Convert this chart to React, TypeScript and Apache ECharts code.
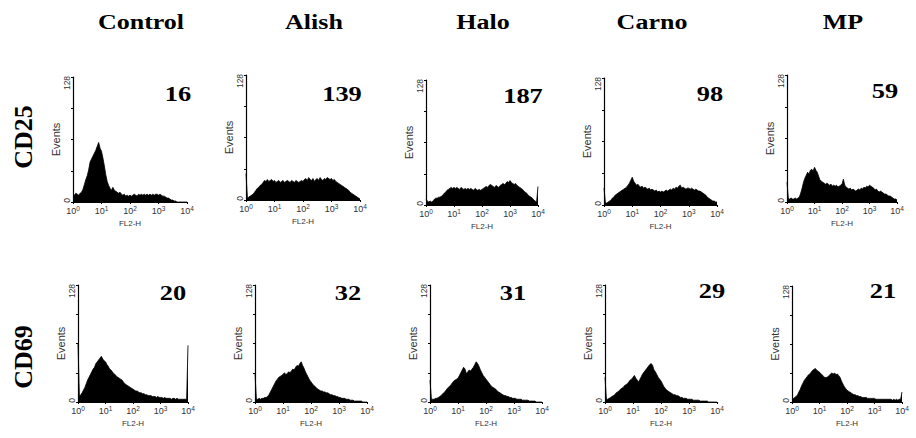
import React, { useEffect, useRef } from 'react';
import * as echarts from 'echarts';

// ---------- data ----------
const COLUMNS = ['Control', 'Alish', 'Halo', 'Carno', 'MP'];
const ROWS = ['CD25', 'CD69'];
const CD25_MFI = ['16', '139', '187', '98', '59'];
const CD69_MFI = ['20', '32', '31', '29', '21'];
const X_TICK_EXPONENTS = ['0', '1', '2', '3', '4'];
const Y_MAX = 128;
const BINS_PER_DECADE = 20; // histogram channels: 10^0 .. 10^4, 81 channels

// Events per channel, channel k at 10^(k/20)
const cd25Control = [
  8, 7, 9, 8, 7, 9, 10, 13, 18, 23,
  27, 33, 41, 44, 47, 50, 53, 57, 61, 55,
  52, 45, 37, 28, 21, 17, 14, 12, 15, 12,
  11, 10, 9, 10, 8, 7, 8, 6, 7, 6,
  7, 6, 7, 8, 7, 6, 8, 7, 8, 7,
  8, 7, 8, 7, 8, 7, 8, 7, 8, 8,
  7, 8, 7, 6, 6, 5, 4, 4, 3, 2,
  2, 1, 1, 0, 0, 0, 0, 0, 0, 0,
  0,
];
const cd25Alish = [
  27, 2, 3, 4, 5, 6, 8, 10, 12, 13,
  15, 16, 18, 20, 19, 21, 19, 20, 21, 19,
  20, 18, 19, 20, 18, 19, 20, 18, 19, 20,
  19, 18, 20, 19, 18, 20, 19, 18, 19, 20,
  19, 21, 22, 20, 23, 21, 20, 22, 19, 21,
  22, 20, 23, 21, 20, 22, 21, 23, 22, 21,
  22, 20, 21, 19, 18, 17, 16, 15, 14, 13,
  12, 11, 10, 8, 7, 6, 5, 4, 3, 2,
  1,
];
const cd25Halo = [
  6, 4, 3, 4, 3, 4, 6, 7, 7, 8,
  8, 9, 10, 12, 13, 15, 16, 17, 18, 17,
  18, 17, 18, 17, 16, 18, 17, 16, 17, 16,
  17, 16, 17, 16, 15, 17, 16, 15, 16, 15,
  16, 17, 18, 19, 18, 20, 21, 20, 19, 18,
  20, 19, 18, 20, 21, 22, 21, 22, 24, 23,
  25, 23, 22, 21, 22, 20, 19, 18, 17, 16,
  14, 13, 12, 10, 9, 8, 7, 5, 4, 3,
  19,
];
const cd25Carno = [
  17, 2, 2, 3, 4, 5, 7, 8, 10, 11,
  12, 13, 14, 15, 16, 17, 18, 20, 22, 25,
  28, 24, 22, 20, 21, 19, 18, 19, 17, 18,
  17, 16, 17, 15, 16, 15, 14, 15, 13, 14,
  13, 14, 13, 14, 15, 14, 15, 16, 15, 17,
  16, 18, 17, 19, 20, 17, 18, 17, 16, 17,
  17, 16, 17, 16, 15, 16, 15, 14, 14, 13,
  12, 11, 10, 8, 7, 6, 5, 4, 4, 3,
  3,
];
const cd25MP = [
  20, 3, 3, 4, 3, 3, 4, 3, 4, 5,
  9, 14, 20, 24, 27, 30, 28, 32, 33, 31,
  35, 32, 30, 26, 22, 21, 20, 19, 18, 19,
  18, 17, 18, 16, 17, 16, 17, 15, 16, 17,
  18, 23, 17, 15, 14, 13, 14, 12, 13, 12,
  11, 12, 13, 12, 14, 13, 15, 14, 16, 15,
  17, 16, 15, 14, 12, 13, 11, 10, 11, 10,
  9, 8, 8, 7, 6, 6, 5, 4, 3, 3,
  2,
];
const cd69Control = [
  64, 6, 8, 10, 13, 16, 20, 24, 27, 30,
  33, 36, 38, 42, 44, 46, 48, 50, 47, 45,
  44, 41, 39, 36, 35, 33, 31, 30, 28, 27,
  26, 25, 24, 22, 20, 19, 18, 17, 16, 15,
  14, 13, 12, 12, 11, 10, 10, 9, 9, 8,
  8, 7, 7, 7, 6, 6, 6, 5, 6, 5,
  5, 5, 4, 5, 4, 4, 4, 4, 3, 4,
  4, 3, 4, 3, 3, 3, 3, 3, 3, 3,
  62,
];
const cd69Alish = [
  31, 3, 3, 4, 3, 4, 4, 5, 5, 6,
  8, 11, 14, 17, 20, 23, 25, 27, 28, 29,
  30, 32, 30, 31, 33, 32, 34, 36, 35, 38,
  40, 39, 42, 44, 40, 37, 33, 30, 27, 24,
  22, 20, 18, 17, 15, 14, 13, 12, 12, 11,
  11, 10, 10, 9, 8, 8, 7, 7, 6, 6,
  5, 5, 4, 4, 4, 3, 3, 3, 2, 2,
  2, 1, 1, 1, 1, 1, 1, 0, 0, 0,
  0,
];
const cd69Halo = [
  24, 3, 3, 3, 4, 4, 5, 6, 7, 9,
  10, 12, 14, 16, 17, 19, 21, 23, 24, 25,
  26, 29, 32, 35, 38, 36, 31, 33, 35, 34,
  36, 38, 41, 44, 42, 39, 35, 32, 29, 27,
  25, 23, 21, 19, 17, 16, 15, 14, 12, 11,
  10, 9, 8, 7, 7, 6, 6, 5, 5, 4,
  4, 4, 3, 3, 3, 3, 2, 2, 2, 2,
  2, 1, 1, 1, 1, 1, 0, 0, 0, 0,
  0,
];
const cd69Carno = [
  27, 3, 3, 4, 5, 6, 7, 8, 10, 11,
  12, 14, 15, 16, 18, 19, 20, 22, 24, 25,
  27, 29, 26, 24, 22, 25, 28, 31, 33, 35,
  37, 39, 41, 42, 40, 35, 33, 30, 27, 25,
  23, 20, 17, 15, 13, 12, 11, 10, 9, 8,
  8, 7, 7, 6, 5, 5, 4, 4, 4, 3,
  3, 3, 3, 2, 2, 2, 2, 2, 1, 1,
  1, 1, 1, 1, 0, 0, 0, 0, 0, 0,
  0,
];
const cd69MP = [
  4, 4, 5, 6, 8, 11, 14, 18, 21, 24,
  26, 28, 30, 31, 33, 35, 36, 37, 35, 34,
  33, 31, 30, 28, 27, 27, 28, 29, 31, 32,
  31, 32, 30, 31, 29, 27, 23, 20, 17, 15,
  13, 12, 11, 10, 9, 8, 8, 7, 7, 6,
  6, 5, 5, 5, 5, 4, 4, 4, 4, 4,
  4, 3, 3, 3, 3, 3, 3, 3, 3, 3,
  3, 3, 3, 2, 3, 2, 3, 2, 3, 3,
  11,
];

const CD25_DATA = [cd25Control, cd25Alish, cd25Halo, cd25Carno, cd25MP];
const CD69_DATA = [cd69Control, cd69Alish, cd69Halo, cd69Carno, cd69MP];

// ---------- layout ----------
const GRID_ROW1 = [
  { left: 73, top: 77, width: 114, height: 125 },
  { left: 246, top: 75, width: 114, height: 125 },
  { left: 426, top: 80, width: 112, height: 125 },
  { left: 604, top: 78, width: 113, height: 127 },
  { left: 787, top: 75, width: 110, height: 127 },
];
const GRID_ROW2 = [
  { left: 78, top: 285, width: 110, height: 117 },
  { left: 255, top: 285, width: 112, height: 117 },
  { left: 430, top: 285, width: 112, height: 117 },
  { left: 605, top: 285, width: 112, height: 117 },
  { left: 792, top: 286, width: 110, height: 116 },
];
const NUM_POS_ROW1 = [[178, 93], [342, 93], [523, 95], [710, 93], [885, 90]];
const NUM_POS_ROW2 = [[173, 292], [348, 292], [513, 292], [712, 290], [883, 290]];
const TITLE_X = [141, 314, 483, 652, 843];
const ROW_LABEL_Y = [137, 357];

const SERIF = "'Liberation Serif', 'Times New Roman', 'DejaVu Serif', serif";
const SANS = "'Liberation Sans', Arial, 'DejaVu Sans', sans-serif";
const AXIS_TEXT = '#333';

export default function App() {
  const ref = useRef<HTMLDivElement>(null);

  useEffect(() => {
    if (!ref.current) return;
    const chart = echarts.init(ref.current, undefined, { renderer: 'svg' });

    const grids: any[] = [];
    const xAxes: any[] = [];
    const yAxes: any[] = [];
    const series: any[] = [];
    const graphics: any[] = [];

    const panels: { data: number[]; grid: any; label: string; pos: number[] }[] = [];
    for (let c = 0; c < COLUMNS.length; c++) {
      panels.push({ data: CD25_DATA[c], grid: GRID_ROW1[c], label: CD25_MFI[c], pos: NUM_POS_ROW1[c] });
    }
    for (let c = 0; c < COLUMNS.length; c++) {
      panels.push({ data: CD69_DATA[c], grid: GRID_ROW2[c], label: CD69_MFI[c], pos: NUM_POS_ROW2[c] });
    }

    panels.forEach((p, i) => {
      grids.push({ ...p.grid, containLabel: false });
      xAxes.push({
        gridIndex: i,
        type: 'value',
        min: 0,
        max: 4,
        interval: 1,
        name: 'FL2-H',
        nameLocation: 'middle',
        nameGap: 17,
        nameTextStyle: { fontSize: 8, color: AXIS_TEXT, fontFamily: SANS },
        axisLine: { show: true, onZero: false, lineStyle: { color: '#000', width: 1.2 } },
        axisTick: { show: true, length: 2, lineStyle: { color: '#000' } },
        splitLine: { show: false },
        axisLabel: {
          margin: 3,
          color: AXIS_TEXT,
          formatter: (v: number) => `{b|10}{s|${X_TICK_EXPONENTS[Math.round(v)]}}`,
          rich: {
            b: { fontSize: 9, color: AXIS_TEXT, fontFamily: SANS, lineHeight: 11 },
            s: { fontSize: 6.5, color: AXIS_TEXT, fontFamily: SANS, verticalAlign: 'top' },
          },
        },
      });
      yAxes.push({
        gridIndex: i,
        type: 'value',
        min: 0,
        max: Y_MAX,
        interval: 32,
        name: 'Events',
        nameLocation: 'middle',
        nameRotate: 90,
        nameGap: 9,
        nameTextStyle: { fontSize: 11, color: AXIS_TEXT, fontFamily: SANS },
        axisLine: { show: true, onZero: false, lineStyle: { color: '#000', width: 1.2 } },
        axisTick: { show: true, length: 2, lineStyle: { color: '#000' } },
        splitLine: { show: false },
        axisLabel: {
          rotate: 90,
          margin: 2,
          color: AXIS_TEXT,
          formatter: (v: number) => (v === 0 ? '{z|0}' : v === Y_MAX ? `{t|${Y_MAX}}` : ''),
          rich: {
            t: { fontSize: 8.5, color: AXIS_TEXT, fontFamily: SANS, padding: [0, 12, 0, 0] },
            z: { fontSize: 8.5, color: AXIS_TEXT, fontFamily: SANS, padding: [0, 0, 0, 3] },
          },
        },
      });
      series.push({
        type: 'line',
        xAxisIndex: i,
        yAxisIndex: i,
        data: p.data.map((v, k) => [k / BINS_PER_DECADE, v]),
        symbol: 'none',
        showSymbol: false,
        lineStyle: { color: '#000', width: 0.8 },
        areaStyle: { color: '#000', opacity: 1 },
        itemStyle: { color: '#000' },
        silent: true,
      });
      graphics.push({
        type: 'text',
        x: p.pos[0],
        y: p.pos[1],
        scaleX: 1.2,
        style: {
          text: p.label,
          fontSize: 22,
          fontWeight: 'bold',
          fontFamily: SERIF,
          fill: '#000',
          align: 'center',
          verticalAlign: 'middle',
        },
      });
    });

    COLUMNS.forEach((t, c) => {
      graphics.push({
        type: 'text',
        x: TITLE_X[c],
        y: 22,
        scaleX: 1.3,
        style: {
          text: t,
          fontSize: 20,
          fontWeight: 'bold',
          fontFamily: SERIF,
          fill: '#000',
          align: 'center',
          verticalAlign: 'middle',
        },
      });
    });
    ROWS.forEach((t, r) => {
      graphics.push({
        type: 'text',
        x: 23,
        y: ROW_LABEL_Y[r],
        rotation: Math.PI / 2,
        style: {
          text: t,
          fontSize: 26,
          fontWeight: 'bold',
          fontFamily: SERIF,
          fill: '#000',
          align: 'center',
          verticalAlign: 'middle',
        },
      });
    });

    chart.setOption({
      animation: false,
      backgroundColor: '#fff',
      grid: grids,
      xAxis: xAxes,
      yAxis: yAxes,
      series,
      graphic: { elements: graphics },
    });

    return () => chart.dispose();
  }, []);

  return (
    <div
      ref={ref}
      style={{ position: 'absolute', left: 0, top: 0, width: 916, height: 438, background: '#fff' }}
    />
  );
}
